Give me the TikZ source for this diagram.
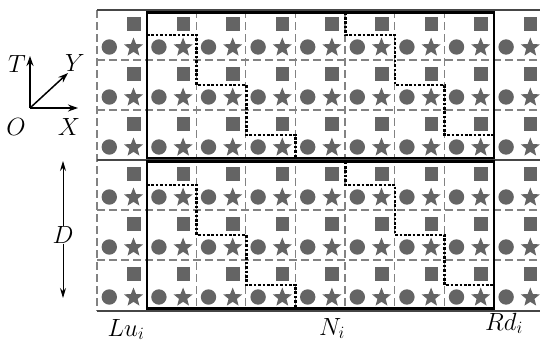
\documentclass[tikz,border=0pt]{standalone}
\usetikzlibrary{shapes.geometric,arrows.meta}
\definecolor{symgray}{RGB}{100,100,100}
\definecolor{dashgray}{RGB}{130,130,130}
\definecolor{linegray}{RGB}{70,70,70}
\tikzset{
  sym/.style={fill=symgray},
  starsym/.style={star,star points=5,star point ratio=2.3,fill=symgray,inner sep=0pt,minimum size=20pt},
  gridline/.style={draw=dashgray,line width=1.2pt,dash pattern=on 8pt off 4pt},
  border/.style={draw=linegray,line width=1.4pt},
  block/.style={draw=black,line width=2.6pt},
  stair/.style={draw=black,line width=2.8pt,dash pattern=on 2.6pt off 1.8pt},
  axis/.style={draw=black,line width=1.5pt,-{Stealth[length=10pt,width=7pt]}},
  lbl/.style={font=\fontsize{23}{27}\selectfont,inner sep=0pt}
}
\begin{document}
\begin{tikzpicture}[x=1pt,y=-1pt]
\useasboundingbox (0,0) rectangle (540,343);
\begin{scope}
\clip (0,0) rectangle (540,343);
% symbols
\foreach \k in {0,...,8} {
  \foreach \j in {0,...,5} {
    \pgfmathsetmacro\xa{97+49.6*\k}
    \pgfmathsetmacro\ya{10+50*\j}
    \fill[sym] (\xa+30,\ya+7) rectangle (\xa+43.5,\ya+20.5);
    \fill[sym] (\xa+12.3,\ya+37) circle (7.7pt);
    \node[starsym] at (\xa+36.5,\ya+37.5) {};
  }
}
% dashed grid
\foreach \k in {0,...,8} {
  \pgfmathsetmacro\xa{97+49.6*\k}
  \draw[gridline] (\xa,10) -- (\xa,311);
}
\foreach \yy in {60,110,210,260} {
  \draw[gridline] (97,\yy) -- (545,\yy);
}
% solid borders
\foreach \yy in {10,160,311} {
  \draw[border] (97,\yy) -- (545,\yy);
}
% blocks
\draw[block] (147,12.5) rectangle (494,158);
\draw[block] (147,161.5) rectangle (494,308.5);
% staircases
\draw[stair] (147,35) -| (196.6,85) -| (246.2,135) -| (295.8,158);
\draw[stair] (345.4,12.5) |- (395,35) |- (444.6,85) |- (494,135);
\draw[stair] (147,185) -| (196.6,235) -| (246.2,285) -| (295.8,308.5);
\draw[stair] (345.4,161.5) |- (395,185) |- (444.6,235) |- (494,285);
% axes
\coordinate (o) at (30,108);
\coordinate (t) at (30,56);
\coordinate (x) at (78,108);
\coordinate (y) at (68,73);
\draw[axis] (o) -- (t);
\draw[axis] (o) -- (x);
\draw[axis] (o) -- (y);
\node[lbl] (tl) at (17,64) {$T$};
\node[lbl] (yl) at (75,63) {$Y$};
\node[lbl] (ol) at (16,127) {$O$};
\node[lbl] (xl) at (69,127) {$X$};
% D arrow
\node[lbl] (dl) at (63,235) {$D$};
\coordinate (dt) at (63,161);
\coordinate (db) at (63,298);
\draw[line width=1pt,-{Stealth[length=10pt,width=6pt]}] (dl.north) -- (dt);
\draw[line width=1pt,-{Stealth[length=10pt,width=6pt]}] (dl.south) -- (db);
% bottom labels
\node[lbl,anchor=base] (lu) at (126,336) {$Lu_i$};
\node[lbl,anchor=base] (rd) at (504,330) {$Rd_i$};
\node[lbl,anchor=base] (ni) at (332,335) {$N_i$};
\end{scope}
\end{tikzpicture}
\end{document}
